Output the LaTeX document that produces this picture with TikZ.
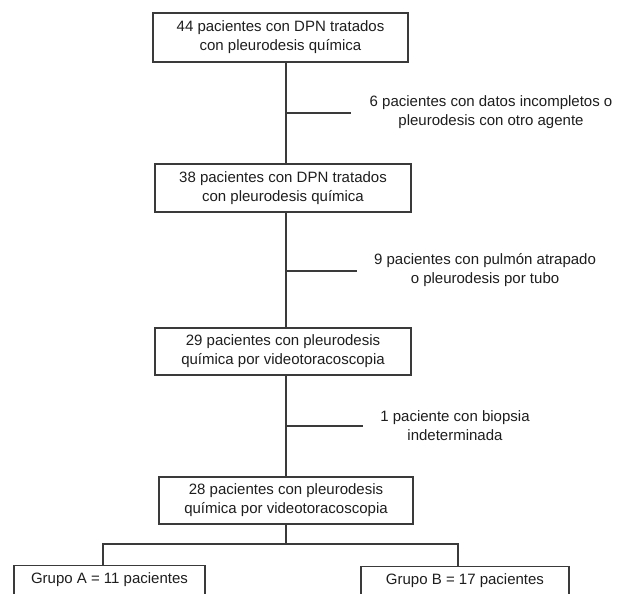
\documentclass[tikz,border=0pt]{standalone}
\usepackage{fontspec}
\setmainfont{Liberation Sans}
\definecolor{linec}{HTML}{3A3A3A}
\definecolor{textc}{HTML}{1E1E1E}
\begin{document}
\begin{tikzpicture}[x=1pt,y=-1pt]
\tikzset{
  box/.style={draw=linec, line width=1.3pt, fill=white, text=textc, align=center,
    inner sep=0pt, font=\fontsize{15}{19}\selectfont},
  side/.style={text=textc, align=center, inner sep=0pt, font=\fontsize{15}{19}\selectfont},
  conn/.style={draw=linec, line width=1.2pt},
  grp/.style={draw=linec, line width=1.3pt, fill=white, text=textc, anchor=north,
    inner xsep=0pt, inner ysep=7pt, text height=11pt, text depth=15pt,
    font=\fontsize{15}{19}\selectfont}
}
\useasboundingbox (0,0) rectangle (630,594);
\fill[white] (0,0) rectangle (630,594);

\node[box, minimum width=255pt, minimum height=49pt] (b1) at (280.5,37.5)
  {44 pacientes con DPN tratados\\con pleurodesis química};
\node[box, minimum width=256pt, minimum height=48pt] (b2) at (283,188)
  {38 pacientes con DPN tratados\\con pleurodesis química};
\node[box, minimum width=256pt, minimum height=47pt] (b3) at (283,351.5)
  {29 pacientes con pleurodesis\\química por videotoracoscopia};
\node[box, minimum width=254pt, minimum height=47pt] (b4) at (286,500.5)
  {28 pacientes con pleurodesis\\química por videotoracoscopia};

\node[side] (t1) at (491,112) {6 pacientes con datos incompletos o\\pleurodesis con otro agente};
\node[side] (t2) at (485,270) {9 pacientes con pulmón atrapado\\o pleurodesis por tubo};
\node[side] (t3) at (455,426) {1 paciente con biopsia\\indeterminada};

\node[grp, minimum width=191pt] (ga) at (109.5,565) {Grupo A = 11 pacientes};
\node[grp, minimum width=208pt] (gb) at (465,566) {Grupo B = 17 pacientes};

\coordinate (s1) at (286,113);
\coordinate (e1) at (351,113);
\coordinate (s2) at (286,271);
\coordinate (e2) at (357,271);
\coordinate (s3) at (286,426);
\coordinate (e3) at (363,426);
\coordinate (j) at (286,544);
\coordinate (ja) at (103,544);
\coordinate (jb) at (458,544);

\draw[conn] (b1.south -| s1) -- (b2.north -| s1);
\draw[conn] (b2.south -| s2) -- (b3.north -| s2);
\draw[conn] (b3.south -| s3) -- (b4.north -| s3);
\draw[conn] (s1) -- (e1);
\draw[conn] (s2) -- (e2);
\draw[conn] (s3) -- (e3);
\draw[conn] (b4.south -| j) -- (j);
\draw[conn] (ga.north -| ja) -- (ja) -- (jb) -- (gb.north -| jb);
\end{tikzpicture}
\end{document}
